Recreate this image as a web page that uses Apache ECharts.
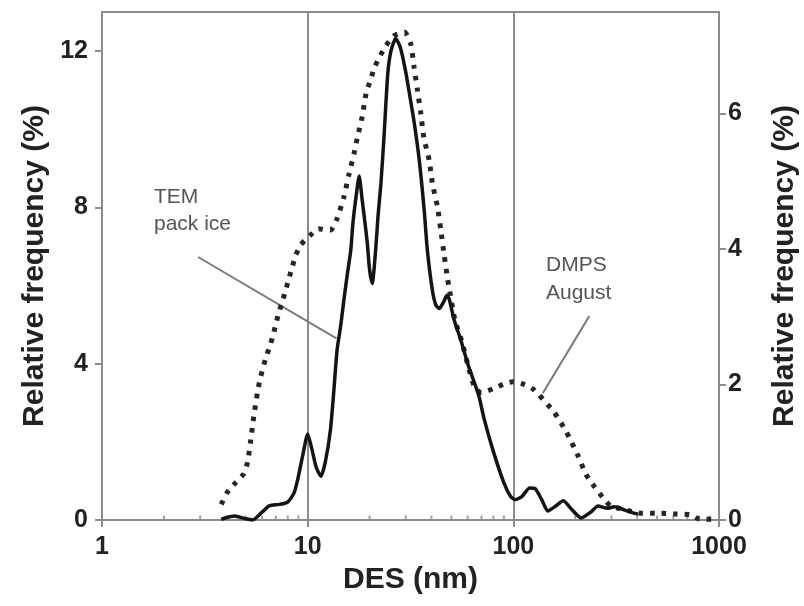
<!DOCTYPE html>
<html>
<head>
<meta charset="utf-8">
<title>DES size distribution</title>
<script src="https://cdn.jsdelivr.net/npm/echarts@6/dist/echarts.min.js"></script>
</head>
<body style="margin:0">
<div id="main" style="width: 804px; height: 606px;"></div>
<script type="text/javascript">

// TEM pack ice, left axis: [DES nm, relative frequency %]
var temPoints = [
  [3.8, 0.02], [4.4, 0.1], [5.0, 0.03], [5.4, 0.0], [6.0, 0.2], [6.5, 0.36], [7.3, 0.4],
  [8.0, 0.46], [8.6, 0.7], [9.0, 1.1], [9.5, 1.7], [10.0, 2.2], [10.5, 1.8], [11.0, 1.35],
  [11.6, 1.12], [12.2, 1.5], [12.9, 2.3], [13.4, 3.3], [13.9, 4.35], [14.5, 5.0], [15.0, 5.63],
  [15.6, 6.3], [16.2, 6.9], [16.6, 7.6], [17.1, 8.18], [17.8, 8.8], [18.4, 8.2], [19.0, 7.6],
  [19.5, 7.08], [20.0, 6.4], [20.6, 6.05], [21.4, 6.9], [22.0, 7.8], [22.7, 8.6], [23.5, 9.8],
  [24.5, 11.4], [25.4, 12.0], [26.8, 12.32], [28.2, 12.1], [29.9, 11.5], [31.5, 10.8],
  [32.9, 10.2], [34.9, 9.2], [36.9, 7.9], [38.2, 6.9], [40.4, 5.88], [42.0, 5.5], [43.6, 5.41],
  [46.0, 5.6], [47.5, 5.75], [48.8, 5.65], [51.6, 5.11], [55.6, 4.6], [60.0, 4.0], [65.7, 3.41],
  [68.2, 3.15], [72, 2.6], [80, 1.75], [90, 0.95], [97, 0.6], [102, 0.52], [110, 0.6],
  [120, 0.82], [128, 0.8], [138, 0.5], [147, 0.23], [160, 0.35], [175, 0.49], [190, 0.3],
  [214, 0.05], [239, 0.21], [258, 0.36], [287, 0.3], [310, 0.34], [346, 0.26], [390, 0.17],
  [405, 0.15]
];

// DMPS August, right axis
var dmpsPoints = [
  [3.8, 0.23], [4.07, 0.41], [4.46, 0.55], [4.88, 0.68], [5.1, 0.85], [5.27, 1.15], [5.47, 1.53],
  [5.7, 1.88], [5.85, 2.06], [6.02, 2.21], [6.24, 2.38], [6.54, 2.56], [6.79, 2.73], [7.0, 2.89],
  [7.24, 3.06], [7.52, 3.22], [7.81, 3.39], [8.1, 3.56], [8.42, 3.74], [8.75, 3.91], [9.24, 4.06],
  [10.27, 4.2], [11.3, 4.3], [12.4, 4.28], [12.95, 4.28], [13.9, 4.45], [15.0, 4.77], [15.9, 5.11],
  [16.8, 5.41], [17.4, 5.63], [18.4, 5.95], [19.3, 6.32], [20.2, 6.49], [21.0, 6.66], [22.3, 6.83],
  [24.0, 7.0], [26.3, 7.15], [29.6, 7.2], [31.7, 7.03], [32.9, 6.69], [34.2, 6.34], [35.5, 6.0],
  [36.7, 5.65], [39.0, 5.31], [40.4, 4.97], [42.8, 4.62], [44.4, 4.28], [46.1, 3.91], [47.9, 3.56],
  [48.8, 3.42], [52, 2.95], [56, 2.65], [60, 2.3], [65, 1.95], [70, 1.88], [80, 1.94], [92, 2.02],
  [100, 2.04], [113, 2.0], [125, 1.93], [133, 1.85], [158, 1.59], [181, 1.3], [207, 0.94],
  [225, 0.68], [248, 0.49], [271, 0.34], [298, 0.2], [330, 0.17], [360, 0.14], [415, 0.1],
  [500, 0.1], [600, 0.09], [722, 0.08], [790, 0.02], [950, 0.01]
];

// leader lines for the two labels
var temLeader = [[2.93, 6.73], [13.8, 4.65]];
var dmpsLeader = [[234, 3.01], [139, 1.87]];

var xTicks = [1, 10, 100, 1000];
var xMinorTicks = [2, 3, 4, 5, 6, 7, 8, 9, 20, 30, 40, 50, 60, 70, 80, 90, 200, 300, 400, 500, 600, 700, 800, 900];
var leftTicks = [0, 4, 8, 12];
var rightTicks = [0, 2, 4, 6];

var chartDom = document.getElementById('main');
var myChart = echarts.init(chartDom);
var option;

var gray = '#8c8c8c';
var ink = '#222';
var font = '"Liberation Sans", Arial, sans-serif';

function txt(size) {
  return { fontFamily: font, fontSize: size, fontWeight: 'bold', color: ink };
}

option = {
  animation: false,
  backgroundColor: '#fff',
  grid: {
    left: 102, right: 85, top: 12, bottom: 86,
    outerBoundsMode: 'none',
    show: true, borderColor: gray, borderWidth: 2
  },
  xAxis: {
    type: 'log',
    logBase: 10,
    min: 1,
    max: 1000,
    name: 'DES (nm)',
    nameLocation: 'middle',
    nameGap: 44,
    nameTextStyle: txt(30),
    axisLine: { lineStyle: { color: gray, width: 2 } },
    axisTick: { length: 7, lineStyle: { color: gray, width: 2 } },
    axisLabel: Object.assign({
      margin: 15,
      customValues: xTicks,
      formatter: function (v) { return String(v); }
    }, txt(25)),
    splitLine: { show: true, lineStyle: { color: gray, width: 2 } }
  },
  yAxis: [
    {
      type: 'value',
      min: 0,
      max: 13,
      name: 'Relative frequency (%)',
      nameLocation: 'middle',
      nameRotate: 90,
      nameGap: 51,
      nameTextStyle: txt(30),
      axisLine: { show: true, lineStyle: { color: gray, width: 2 } },
      axisTick: { show: true, length: 7, customValues: leftTicks, lineStyle: { color: gray, width: 2 } },
      axisLabel: Object.assign({ margin: 14, customValues: leftTicks }, txt(25)),
      splitLine: { show: false }
    },
    {
      type: 'value',
      position: 'right',
      min: 0,
      max: 7.5,
      name: 'Relative frequency (%)',
      nameLocation: 'middle',
      nameRotate: 90,
      nameGap: 51,
      nameTextStyle: txt(30),
      axisLine: { show: true, lineStyle: { color: gray, width: 2 } },
      axisTick: { show: true, length: 7, customValues: rightTicks, lineStyle: { color: gray, width: 2 } },
      axisLabel: Object.assign({ margin: 9, customValues: rightTicks }, txt(25)),
      splitLine: { show: false }
    }
  ],
  graphic: [
    {
      type: 'text', left: 154, top: 184, silent: true,
      style: { text: 'TEM\npack ice', fontFamily: font, fontSize: 21, lineHeight: 27, fill: '#555' }
    },
    {
      type: 'text', left: 546, top: 251, silent: true,
      style: { text: 'DMPS\nAugust', fontFamily: font, fontSize: 21, lineHeight: 28, fill: '#555' }
    }
  ],
  series: [
    {
      name: 'minor ticks',
      type: 'scatter',
      yAxisIndex: 0,
      silent: true,
      symbol: 'rect',
      symbolSize: [2, 5],
      symbolOffset: [0, -2],
      itemStyle: { color: gray },
      data: xMinorTicks.map(function (v) { return [v, 0]; }),
      z: 1
    },
    {
      name: 'TEM leader',
      type: 'line',
      yAxisIndex: 0,
      silent: true,
      showSymbol: false,
      lineStyle: { color: '#7a7a7a', width: 2 },
      data: temLeader
    },
    {
      name: 'DMPS leader',
      type: 'line',
      yAxisIndex: 1,
      silent: true,
      showSymbol: false,
      lineStyle: { color: '#7a7a7a', width: 2 },
      data: dmpsLeader
    },
    {
      name: 'DMPS August',
      type: 'line',
      yAxisIndex: 1,
      showSymbol: false,
      smooth: 0.2,
      lineStyle: { color: '#262626', width: 5, type: [4.5, 7], cap: 'butt' },
      data: dmpsPoints,
      z: 3
    },
    {
      name: 'TEM pack ice',
      type: 'line',
      yAxisIndex: 0,
      showSymbol: false,
      smooth: 0.2,
      lineStyle: { color: '#141414', width: 3.5 },
      data: temPoints,
      z: 4
    }
  ]
};

option && myChart.setOption(option);
</script>
</body>
</html>
